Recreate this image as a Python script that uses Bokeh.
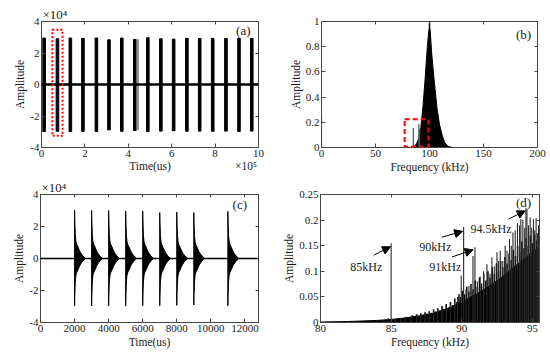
from bokeh.plotting import figure
from bokeh.layouts import column, row
from bokeh.models import (FixedTicker, CustomJSTickFormatter, Label, Arrow, NormalHead,
                          Range1d, LinearAxis, BoxAnnotation, Span)
from bokeh.embed import file_html
from bokeh.resources import INLINE

FONT = "Liberation Serif"
INK = "#1a1a1a"
AX = "#444444"

# ---------------- (a) full record: pulses (time in x10^5 us, amplitude in x10^4)
a_pulse_time = [0.12, 0.735, 1.33, 1.91, 2.53, 3.11, 3.70, 4.30, 4.90, 5.50, 6.09, 6.70, 7.29, 7.89, 8.50, 9.10, 9.69]
a_pulse_top = [2.95, 2.90, 2.95, 2.93, 2.95, 2.84, 2.95, 2.86, 2.97, 2.90, 2.88, 2.93, 2.92, 2.93, 2.92, 2.94, 2.92]
a_pulse_bottom = [-2.99, -2.97, -2.99, -2.98, -2.98, -2.88, -2.97, -2.92, -2.99, -2.96, -2.93, -2.97, -2.96, -2.97, -2.96, -2.98, -2.96]
a_grey_time = [4.44]
a_grey_top = [2.85]
a_grey_bottom = [-2.85]
a_box = [0.5, 0.97, -3.26, 3.47]   # left, right, bottom, top (highlight)
a_xticks = [0, 2, 4, 6, 8, 10]
a_yticks = [-4, -2, 0, 2, 4]

# ---------------- (b) spectrum (kHz, normalised amplitude)
b_env_freq = [84, 86, 88, 90, 92, 94, 96, 98, 99.3, 100, 100.7, 102, 104, 107, 109.3, 112, 114, 117, 121]
b_env_amp = [0, 0.01, 0.03, 0.07, 0.16, 0.33, 0.55, 0.80, 0.92, 0.95, 0.92, 0.75, 0.56, 0.31, 0.18, 0.09, 0.04, 0.01, 0]
b_peak_freq = [100]
b_peak_amp = [1.0]
b_spike_freq = [0, 85, 90.1, 90.9]
b_spike_amp = [0.26, 0.155, 0.187, 0.147]
b_box = [77, 99, 0.005, 0.225]
b_xticks = [0, 50, 100, 150, 200]
b_yticks = [0, 0.2, 0.4, 0.6, 0.8, 1]

# ---------------- (c) zoomed record (us, x10^4)
c_burst_time = [2000, 3000, 4000, 5000, 6000, 7000, 8000, 9000, 11000]
c_burst_top = [3.03, 3.00, 3.00, 2.97, 2.97, 2.87, 2.90, 2.87, 2.95]
c_burst_bottom = [-2.97, -2.97, -2.97, -2.97, -2.95, -2.95, -2.93, -2.90, -2.95]
c_decay_offset = [0, 10, 40, 80, 130, 200, 280, 350, 430, 520, 620]
c_decay_frac = [1.0, 0.8, 0.5, 0.35, 0.29, 0.24, 0.17, 0.12, 0.08, 0.04, 0.01]
c_xticks = [0, 2000, 4000, 6000, 8000, 10000, 12000]
c_yticks = [-4, -2, 0, 2, 4]

# ---------------- (d) spectrum detail 80-95.5 kHz
d_floor_freq = [80, 82, 84, 85, 86, 87, 88, 89, 90, 91, 92, 93, 94, 95, 95.5]
d_floor_amp = [0.001, 0.002, 0.004, 0.006, 0.009, 0.013, 0.018, 0.027, 0.040, 0.055, 0.072, 0.092, 0.115, 0.138, 0.148]
d_mid_freq = [86.5, 86.65, 86.8, 86.95, 87.1, 87.25, 87.4, 87.55, 87.7, 87.85, 88.0, 88.15, 88.3, 88.45,
              88.6, 88.75, 88.9, 89.05, 89.2, 89.35, 89.5, 89.65, 89.8, 89.9, 90.05, 90.2, 90.35, 90.5,
              90.65, 90.8, 90.95, 91.1, 91.25, 91.4, 91.55, 91.7, 91.85, 92.0, 92.15, 92.3, 92.45, 92.6,
              92.75, 92.9, 93.05, 93.2, 93.35, 93.5, 93.65, 93.8, 93.95, 94.1, 94.25, 94.4, 94.55, 94.7,
              94.85, 95.0, 95.15, 95.3, 95.45]
d_mid_amp = [0.014, 0.012, 0.016, 0.013, 0.018, 0.015, 0.020, 0.017, 0.022, 0.019, 0.026, 0.022, 0.028,
             0.024, 0.032, 0.027, 0.036, 0.030, 0.040, 0.034, 0.047, 0.040, 0.055, 0.050, 0.062, 0.055,
             0.070, 0.060, 0.075, 0.065, 0.082, 0.070, 0.088, 0.076, 0.095, 0.082, 0.100, 0.088, 0.108,
             0.095, 0.115, 0.100, 0.120, 0.108, 0.128, 0.115, 0.135, 0.122, 0.142, 0.130, 0.150, 0.138,
             0.158, 0.145, 0.165, 0.150, 0.170, 0.155, 0.172, 0.160, 0.175]
d_spike_freq = [84.0, 84.5, 84.8, 85.0, 85.3, 85.7, 86.0, 86.4, 86.8, 87.1, 87.4, 87.7, 88.0, 88.3, 88.6,
                88.9, 89.2, 89.5, 89.7, 89.96, 90.13, 90.3, 90.5, 90.79, 90.93, 91.1, 91.3, 91.54, 91.78,
                92.0, 92.13, 92.3, 92.49, 92.6, 92.72, 92.9, 93.07, 93.2, 93.38, 93.5, 93.62, 93.78,
                93.94, 94.09, 94.18, 94.32, 94.45, 94.54, 94.61, 94.72, 94.84, 94.95, 95.07, 95.16,
                95.26, 95.35, 95.43]
d_spike_amp = [0.004, 0.006, 0.009, 0.155, 0.007, 0.009, 0.011, 0.012, 0.015, 0.017, 0.019, 0.021, 0.024,
               0.026, 0.030, 0.034, 0.036, 0.042, 0.050, 0.092, 0.187, 0.065, 0.072, 0.130, 0.147, 0.080,
               0.090, 0.100, 0.114, 0.095, 0.127, 0.110, 0.137, 0.120, 0.140, 0.120, 0.150, 0.140, 0.163,
               0.150, 0.176, 0.180, 0.194, 0.190, 0.202, 0.200, 0.185, 0.223, 0.221, 0.190, 0.205, 0.185,
               0.202, 0.180, 0.204, 0.175, 0.190]
d_annot_text = ["85kHz", "90kHz", "91kHz", "94.5kHz"]
d_annot_x = [83.24, 88.13, 88.83, 92.07]
d_annot_y = [0.109, 0.1475, 0.109, 0.183]
d_arrow_x0 = [83.77, 88.6, 89.31, 93.31]
d_arrow_y0 = [0.1315, 0.1667, 0.128, 0.202]
d_arrow_x1 = [84.95, 90.06, 90.8, 94.49]
d_arrow_y1 = [0.148, 0.178, 0.142, 0.218]
d_xticks = [80, 85, 90, 95]
d_yticks = [0, 0.05, 0.1, 0.15, 0.2, 0.25]

FMT = CustomJSTickFormatter(code="return String(Math.round(tick*1000)/1000);")


def style_axis(ax, label_standoff=2):
    ax.formatter = FMT
    ax.axis_line_color = AX
    ax.major_tick_line_color = AX
    ax.major_tick_in = 4
    ax.major_tick_out = 0
    ax.minor_tick_line_color = None
    ax.major_label_text_font = FONT
    ax.major_label_text_font_size = "11px"
    ax.major_label_text_color = INK
    ax.axis_label_text_font = FONT
    ax.axis_label_text_font_size = "11.5px"
    ax.axis_label_text_font_style = "normal"
    ax.axis_label_text_color = INK
    ax.major_label_standoff = label_standoff
    ax.axis_label_standoff = 1


def make_fig(w, h, xr, yr, borders, xticks, yticks, xlabel, ylabel, title=""):
    left, right, top, bottom = borders
    p = figure(width=w, height=h, x_range=Range1d(*xr), y_range=Range1d(*yr),
               output_backend="svg", toolbar_location=None,
               min_border_left=left, min_border_right=right,
               min_border_top=top, min_border_bottom=bottom)
    p.grid.visible = False
    p.outline_line_color = AX
    p.outline_line_width = 1
    p.xaxis.ticker = FixedTicker(ticks=xticks)
    p.yaxis.ticker = FixedTicker(ticks=yticks)
    if xlabel:
        p.xaxis.axis_label = xlabel
    p.yaxis.axis_label = ylabel
    style_axis(p.xaxis[0])
    style_axis(p.yaxis[0])
    # mirrored ticks on top and right (no labels)
    for loc, ticks in (("above", xticks), ("right", yticks)):
        ax = LinearAxis(ticker=FixedTicker(ticks=ticks), major_label_text_color=None,
                        major_label_standoff=0, major_tick_in=3, major_tick_out=0,
                        minor_tick_line_color=None, axis_line_color=AX, major_tick_line_color=AX)
        p.add_layout(ax, loc)
    if title:
        p.title.text = title
        p.title.align = "left"
        p.title.text_font = FONT
        p.title.text_font_size = "13px"
        p.title.text_font_style = "normal"
        p.title.text_color = INK
        p.title.standoff = 0
        p.title.offset = 1
    return p


def lab(p, x, y, text, size="11px"):
    p.add_layout(Label(x=x, y=y, text=text, text_font=FONT, text_font_size=size, text_color=INK,
                       text_align="center", text_baseline="middle"))


def red_box(p, box, dash):
    p.add_layout(BoxAnnotation(left=box[0], right=box[1], bottom=box[2], top=box[3],
                               fill_alpha=0, line_color="#ff0000", line_alpha=1.0,
                               line_width=2, line_dash=dash))


# ---- (a)
pa = make_fig(275, 175, (0, 10), (-4, 4), (41, 17, 21, 28), a_xticks, a_yticks, None, "Amplitude", "×10⁴")
# second row under the tick labels: axis title and the x10^5 exponent
a_xtitle_pos = [5, 9.42]
a_xtitle_txt = ["Time(us)", "×10⁵"]
ax2 = LinearAxis(ticker=FixedTicker(ticks=a_xtitle_pos),
                 formatter=CustomJSTickFormatter(args=dict(pos=a_xtitle_pos, txt=a_xtitle_txt),
                                                 code="return txt[pos.indexOf(tick)];"),
                 axis_line_color=None, major_tick_line_color=None, minor_tick_line_color=None,
                 major_tick_in=0, major_tick_out=0, major_label_standoff=0,
                 major_label_text_font=FONT, major_label_text_font_size="11.5px",
                 major_label_text_color=INK)
pa.add_layout(ax2, "below")
pa.add_layout(Span(location=0, dimension="width", line_color="black", line_width=2.5))
pa.vbar(x=a_pulse_time, width=0.12, top=a_pulse_top, bottom=a_pulse_bottom, color="black")
pa.vbar(x=a_grey_time, width=0.05, top=a_grey_top, bottom=a_grey_bottom, color="#8a8a8a")
red_box(pa, a_box, "2 2")
lab(pa, 9.3, 3.4, "(a)", size="13px")

# ---- (b)
pb = make_fig(275, 175, (0, 200), (0, 1), (46, 13, 19, 25), b_xticks, b_yticks, "Frequency (kHz)", "Amplitude")
pb.patch(b_env_freq, b_env_amp, color="black")
pb.segment(x0=b_peak_freq, y0=[0], x1=b_peak_freq, y1=b_peak_amp, line_color="black", line_width=1.5)
pb.segment(x0=b_spike_freq, y0=[0] * len(b_spike_freq), x1=b_spike_freq, y1=b_spike_amp,
           line_color="#555555", line_width=1.2)
red_box(pb, b_box, "5 3")
lab(pb, 187, 0.9, "(b)", size="13px")

# ---- (c)
pc = make_fig(275, 182, (0, 12800), (-4, 4), (40, 17, 19, 35), c_xticks, c_yticks, "Time(us)", "Amplitude", "×10⁴")
pc.add_layout(Span(location=0, dimension="width", line_color="black", line_width=1.3))
xs, ys = [], []
for t0, top, bot in zip(c_burst_time, c_burst_top, c_burst_bottom):
    upper_x = [t0 + o for o in c_decay_offset]
    xs.append([t0] + upper_x + upper_x[::-1])
    ys.append([0] + [top * f for f in c_decay_frac] + [bot * f for f in c_decay_frac][::-1])
pc.patches(xs, ys, color="black")
lab(pc, 11700, 3.35, "(c)", size="13px")

# ---- (d)
pd = make_fig(275, 182, (80, 95.5), (0, 0.25), (45, 11, 17, 35), d_xticks, d_yticks, "Frequency (kHz)", "Amplitude")
pd.patch([d_floor_freq[0]] + d_floor_freq + [d_floor_freq[-1]], [0] + d_floor_amp + [0], color="black")
pd.segment(x0=d_mid_freq, y0=[0] * len(d_mid_freq), x1=d_mid_freq, y1=d_mid_amp,
           line_color="black", line_width=1.5)
pd.segment(x0=d_spike_freq, y0=[0] * len(d_spike_freq), x1=d_spike_freq, y1=d_spike_amp,
           line_color="#2a2a2a", line_width=1.1)
for i in range(len(d_annot_text)):
    pd.add_layout(Arrow(end=NormalHead(size=8, fill_color="black", line_color="black"),
                        x_start=d_arrow_x0[i], y_start=d_arrow_y0[i], x_end=d_arrow_x1[i], y_end=d_arrow_y1[i],
                        line_color="black", line_width=1))
    lab(pd, d_annot_x[i], d_annot_y[i], d_annot_text[i], size="12px")
lab(pd, 94.37, 0.234, "(d)", size="13px")

layout = column(row(pa, pb), row(pc, pd))
open("out.html", "w").write(file_html(layout, INLINE))
